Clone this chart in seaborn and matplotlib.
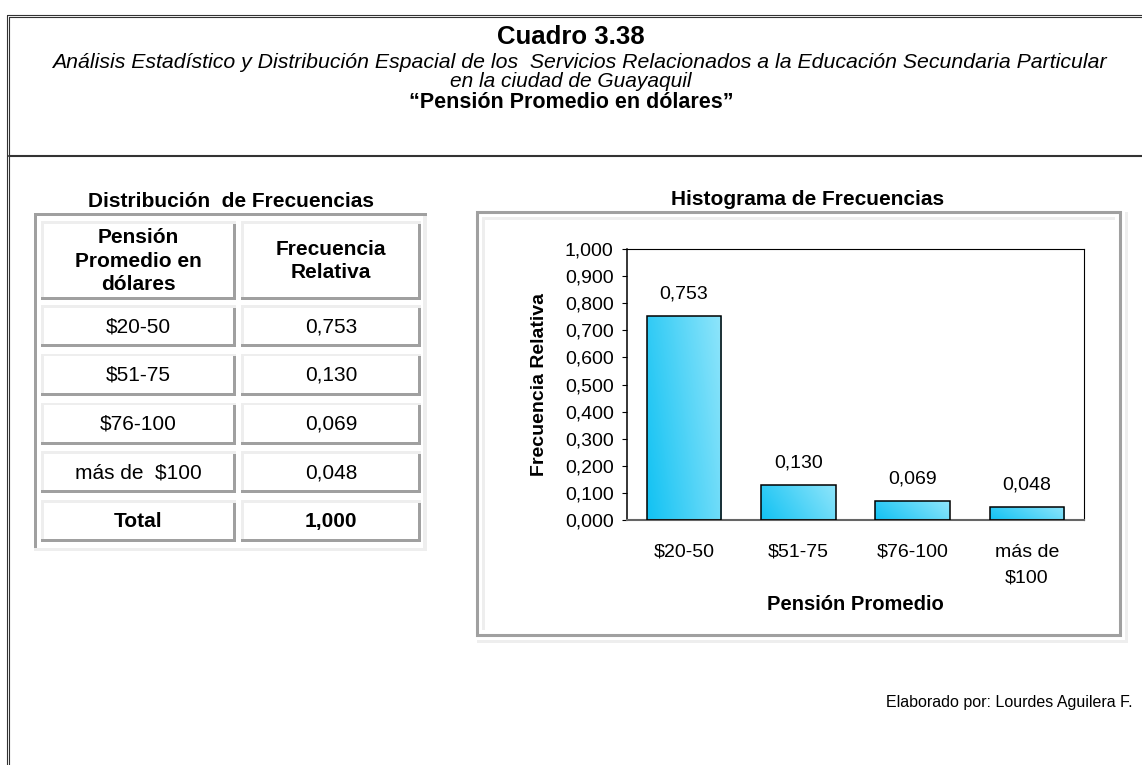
import numpy as np
import matplotlib
matplotlib.use("Agg")
import matplotlib.pyplot as plt
from matplotlib.patches import Rectangle
from matplotlib.colors import LinearSegmentedColormap
from matplotlib.ticker import FuncFormatter
import seaborn as sns

# ---- data ----
categories = ["$20-50", "$51-75", "$76-100", "más de  $100"]
tick_labels = ["$20-50", "$51-75", "$76-100", "más de\n$100"]
rel_freq = [0.753, 0.130, 0.069, 0.048]
total_label = "Total"
total_value = 1.000
yticks = [0.0, 0.1, 0.2, 0.3, 0.4, 0.5, 0.6, 0.7, 0.8, 0.9, 1.0]

title = "Cuadro 3.38"
subtitle_1 = "Análisis Estadístico y Distribución Espacial de los  Servicios Relacionados a la Educación Secundaria Particular"
subtitle_2 = "en la ciudad de Guayaquil"
subtitle_3 = "“Pensión Promedio en dólares”"
table_title = "Distribución  de Frecuencias"
table_head = ["Pensión\nPromedio en\ndólares", "Frecuencia\nRelativa"]
chart_title = "Histograma de Frecuencias"
x_label = "Pensión Promedio"
y_label = "Frecuencia Relativa"
footer = "Elaborado por: Lourdes Aguilera F."


def fmt(v):
    return f"{v:.3f}".replace(".", ",")


sns.set_style("white")
plt.rcParams["font.family"] = ["Liberation Sans", "DejaVu Sans"]
plt.rcParams["text.color"] = "black"
plt.rcParams["axes.labelcolor"] = "black"
plt.rcParams["xtick.color"] = "black"
plt.rcParams["ytick.color"] = "black"

W, H = 1142, 765
fig = plt.figure(figsize=(W / 100, H / 100), dpi=100)
fig.patch.set_facecolor("white")

# background layer in pixel coordinates (y grows downward)
bg = fig.add_axes([0, 0, 1, 1])
bg.set_xlim(0, W)
bg.set_ylim(H, 0)
bg.axis("off")
bg.set_zorder(0)

DARK = "#a0a0a0"
LIGHT = "#eeeeee"
LINE = "#333333"


def box(x, y, w, h, color):
    bg.add_patch(Rectangle((x, y), w, h, facecolor=color, edgecolor="none", lw=0))


# outer double frame and separator
bg.plot([6.7, 6.7], [14.7, H], color=LINE, lw=0.8)
bg.plot([9.3, 9.3], [17.3, H], color=LINE, lw=0.8)
bg.plot([6.7, W], [14.7, 14.7], color=LINE, lw=0.8)
bg.plot([9.3, W], [17.3, 17.3], color=LINE, lw=0.8)
bg.plot([9.3, W], [156, 156], color=LINE, lw=1.5)

# header texts
bg.text(571, 37, title, ha="center", va="center", fontsize=18.5, fontweight="bold")
bg.text(579, 62, subtitle_1, ha="center", va="center", fontsize=15.3, style="italic")
bg.text(571, 81, subtitle_2, ha="center", va="center", fontsize=15, style="italic")
bg.text(571, 102, subtitle_3, ha="center", va="center", fontsize=15.5, fontweight="bold")

# ---- frequency table ----
bg.text(231, 201, table_title, ha="center", va="center", fontsize=15, fontweight="bold")
tx0, ty0, tx1, ty1 = 34, 213, 427, 551
box(tx0, ty0, tx1 - tx0, 3, DARK)
box(tx0, ty0, 3, ty1 - ty0, DARK)
box(tx0, ty1 - 3, tx1 - tx0, 3, LIGHT)
box(tx1 - 4, ty0 + 3, 4, ty1 - ty0 - 3, LIGHT)


def cell(x0, y0, x1, y1):
    box(x0, y0, x1 - x0, 2.5, LIGHT)
    box(x0, y0, 2.5, y1 - y0, LIGHT)
    box(x0, y1 - 3, x1 - x0, 3, DARK)
    box(x1 - 3, y0 + 2.5, 3, y1 - y0 - 2.5, DARK)


cols = [(41, 236), (241, 421)]
# header row
for (cx0, cx1), txt in zip(cols, table_head):
    cell(cx0, 221, cx1, 300)
    bg.text((cx0 + cx1) / 2, 261, txt, ha="center", va="center", fontsize=15,
            fontweight="bold", linespacing=1.32)

rows_lab = categories + [total_label]
rows_val = [fmt(v) for v in rel_freq] + [fmt(total_value)]
for i, (lab, val) in enumerate(zip(rows_lab, rows_val)):
    top = 305 + 48.8 * i
    weight = "bold" if i == len(rows_lab) - 1 else "normal"
    for (cx0, cx1), txt in zip(cols, [lab, val]):
        cell(cx0, top, cx1, top + 42)
        bg.text((cx0 + cx1) / 2, top + 21.5, txt, ha="center", va="center",
                fontsize=15, fontweight=weight)

# ---- chart frame ----
fx0, fy0, fx1, fy1 = 477, 212, 1120, 635
bg.add_patch(Rectangle((fx0, fy0), fx1 - fx0, fy1 - fy0, facecolor="none",
                       edgecolor=DARK, lw=2.2))
box(fx0 + 5, fy0 + 5, fx1 - fx0 - 10, 2.5, LIGHT)
box(fx0 + 5, fy0 + 5, 2.5, fy1 - fy0 - 10, LIGHT)
box(fx0, fy1 + 5, fx1 - fx0 + 7, 3, LIGHT)
box(fx1 + 5, fy0, 3, fy1 - fy0 + 8, LIGHT)

bg.text(808, 199, chart_title, ha="center", va="center", fontsize=15, fontweight="bold")
bg.text(1133, 703, footer, ha="right", va="center", fontsize=11.5)

# ---- bar chart ----
ax_l, ax_t, ax_r, ax_b = 627, 249, 1084, 520
ax = fig.add_axes([ax_l / W, (H - ax_b) / H, (ax_r - ax_l) / W, (ax_b - ax_t) / H])
ax.set_zorder(1)
ax.set_facecolor("white")

sns.barplot(x=tick_labels, y=rel_freq, ax=ax, width=0.65, color="#3cd0f6",
            edgecolor="black", linewidth=1.1, saturation=1)

cmap = LinearSegmentedColormap.from_list("cyan", ["#12c2f3", "#8fe5fb"])
gx, gy = np.meshgrid(np.linspace(0, 1, 64), np.linspace(0, 1, 64))
grad = 0.75 * gx + 0.25 * gy
for bar in ax.patches:
    x0, y0 = bar.get_x(), bar.get_y()
    w, h = bar.get_width(), bar.get_height()
    img = ax.imshow(grad, cmap=cmap, extent=[x0, x0 + w, y0, y0 + h],
                    origin="lower", aspect="auto", zorder=2, interpolation="bilinear")
    img.set_clip_path(bar)
    bar.set_facecolor("none")
    bar.set_zorder(3)

for xi, v in enumerate(rel_freq):
    ax.annotate(fmt(v), (xi, v), xytext=(0, 15.8), textcoords="offset points",
                ha="center", va="center", fontsize=14, color="black")

ax.set_xlim(-0.5, len(rel_freq) - 0.5)
ax.set_ylim(0, 1)
ax.set_yticks(yticks)
ax.yaxis.set_major_formatter(FuncFormatter(lambda v, p: fmt(v)))
ax.tick_params(axis="y", left=True, length=3.6, width=0.8, direction="out",
               pad=6, labelsize=14, colors="black")
ax.tick_params(axis="x", bottom=False, length=0, pad=17, labelsize=14,
               colors="black")
for t in ax.get_xticklabels():
    t.set_linespacing(1.65)

for side in ["top", "right", "left"]:
    ax.spines[side].set_visible(True)
    ax.spines[side].set_color("black")
    ax.spines[side].set_linewidth(0.8)
ax.spines["left"].set_linewidth(1.1)
ax.spines["bottom"].set_color("#666666")
ax.spines["bottom"].set_linewidth(1.5)

ax.set_xlabel(x_label, fontsize=14.5, fontweight="bold")
ax.xaxis.label.set_va("center")
ax.xaxis.set_label_coords(0.5, (ax_b - 605) / (ax_b - ax_t))
ax.set_ylabel(y_label, fontsize=14, fontweight="bold")
ax.yaxis.label.set_va("center")
ax.yaxis.set_label_coords((540 - ax_l) / (ax_r - ax_l), 0.5)
ax.grid(False)

fig.savefig("out.png", dpi=100, facecolor="white")
